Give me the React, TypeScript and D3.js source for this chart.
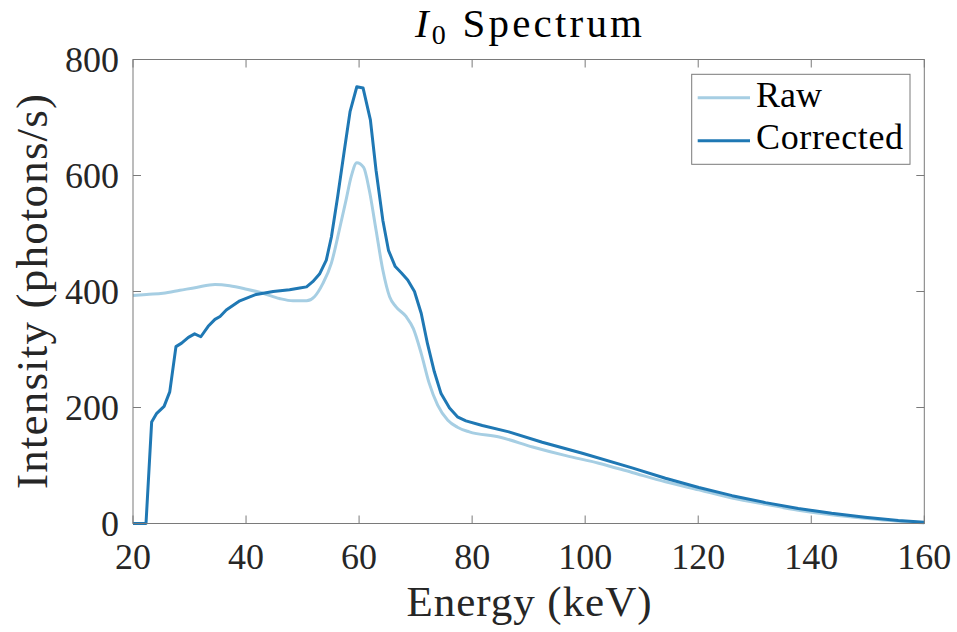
import React from "react";
import * as d3 from "d3";

const rawEnergy = [20, 22.4, 25.3, 28.3, 31.2, 34.5, 37.1, 40.1, 43, 45.9, 48.3, 50.7, 52.1, 53.6, 55.1, 56.5, 57.7, 58.6, 59.6, 60.8, 61.8, 63, 64.2, 65.4, 66.5, 68.3, 69.6, 71, 72.4, 73.9, 75.7, 77.4, 79.5, 84.8, 90.7, 96.6, 102.4, 108.3, 114.2, 120.1, 126, 131.9, 137.7, 143.6, 149.5, 155.4, 160];
const rawIntensity = [393, 395, 397, 402, 407, 412, 410, 404, 397, 388, 384, 384, 391, 414, 449, 506, 558, 598, 622, 614, 575, 506, 437, 391, 374, 357, 336, 293, 242, 204, 178, 166, 158, 149, 132, 117, 104, 88, 72, 58, 44, 33, 23, 15, 9, 4, 1];

const corrEnergy = [20, 22.3, 23.3, 24.2, 25.5, 26.5, 27.6, 28.6, 29.8, 30.9, 32, 33.3, 34.5, 35.4, 36.5, 38.9, 41.8, 44.8, 47.7, 49.5, 50.7, 51.8, 53, 54.2, 55.1, 56.2, 57.4, 58.4, 59.6, 60.7, 62, 63, 64.2, 65.2, 66.4, 67.5, 68.6, 69.8, 71, 72.1, 73.3, 74.5, 76, 77.4, 78.9, 81.8, 86.5, 92.4, 99.5, 108.3, 114.2, 120.1, 126, 131.9, 137.7, 143.6, 149.5, 155.4, 160];
const corrIntensity = [0, 0, 175, 190, 202, 227, 305, 311, 321, 327, 322, 340, 352, 357, 368, 384, 395, 400, 403, 406, 408, 417, 430, 454, 494, 563, 644, 710, 753, 751, 696, 609, 523, 471, 443, 432, 420, 400, 362, 310, 262, 224, 199, 184, 177, 169, 158, 140, 121, 96, 78, 62, 48, 36, 26, 17.5, 10.7, 5, 2];

const xTicks = [20, 40, 60, 80, 100, 120, 140, 160];
const yTicks = [0, 200, 400, 600, 800];
const seriesNames = ["Raw", "Corrected"];
const seriesColors = ["#a6cee3", "#1f78b4"];

const W = 957;
const H = 632;
const left = 133;
const right = 924.3;
const top = 59.5;
const bottom = 523.5;
const FONT = "'Liberation Serif', 'Times New Roman', serif";
const AXIS = "#7a7a7a";

export default function App() {
  const x = d3.scaleLinear().domain([20, 160]).range([left, right]);
  const y = d3.scaleLinear().domain([0, 800]).range([bottom, top]);

  const rawPts: [number, number][] = rawEnergy.map((e, i) => [e, rawIntensity[i]]);
  const corrPts: [number, number][] = corrEnergy.map((e, i) => [e, corrIntensity[i]]);

  const rawLine = d3
    .line<[number, number]>()
    .x((d) => x(d[0]))
    .y((d) => y(d[1]))
    .curve(d3.curveMonotoneX);
  const corrLine = d3
    .line<[number, number]>()
    .x((d) => x(d[0]))
    .y((d) => y(d[1]));

  const tickLen = 8;

  return (
    <svg
      width={W}
      height={H}
      style={{ position: "absolute", left: 0, top: 0, background: "#fff" }}
      fontFamily={FONT}
    >
      <rect x={0} y={0} width={W} height={H} fill="#fff" />
      <defs>
        <clipPath id="plotClip">
          <rect x={left - 2} y={top} width={right - left + 4} height={bottom - top + 2} />
        </clipPath>
      </defs>

      {/* ticks */}
      {xTicks.map((t) => (
        <g key={"xt" + t}>
          <line x1={x(t)} x2={x(t)} y1={bottom} y2={bottom - tickLen} stroke={AXIS} strokeWidth={1} />
          <line x1={x(t)} x2={x(t)} y1={top} y2={top + tickLen} stroke={AXIS} strokeWidth={1} />
          <text x={x(t)} y={569} textAnchor="middle" fontSize={36} fill="#262626">
            {t}
          </text>
        </g>
      ))}
      {yTicks.map((t) => (
        <g key={"yt" + t}>
          <line x1={left} x2={left + tickLen} y1={y(t)} y2={y(t)} stroke={AXIS} strokeWidth={1} />
          <line x1={right} x2={right - tickLen} y1={y(t)} y2={y(t)} stroke={AXIS} strokeWidth={1} />
          <text x={119} y={y(t) + 12} textAnchor="end" fontSize={36} fill="#262626">
            {t}
          </text>
        </g>
      ))}

      {/* lines */}
      <g clipPath="url(#plotClip)">
        <path d={rawLine(rawPts) || ""} fill="none" stroke={seriesColors[0]} strokeWidth={3} strokeLinejoin="round" />
        <path d={corrLine(corrPts) || ""} fill="none" stroke={seriesColors[1]} strokeWidth={3} strokeLinejoin="round" />
      </g>

      {/* box */}
      <rect x={left} y={top} width={right - left} height={bottom - top} fill="none" stroke={AXIS} strokeWidth={1} />

      {/* legend */}
      <rect x={691.7} y={74.3} width={218.3} height={90} fill="#fff" stroke={AXIS} strokeWidth={1} />
      {seriesNames.map((n, i) => {
        const ly = i === 0 ? 97.7 : 140.7;
        const by = i === 0 ? 106.7 : 149.3;
        return (
          <g key={n}>
            <line x1={697.7} x2={750} y1={ly} y2={ly} stroke={seriesColors[i]} strokeWidth={3} />
            <text x={756} y={by} fontSize={36} fill="#000" textLength={i === 0 ? 66 : 147} lengthAdjust="spacing">
              {n}
            </text>
          </g>
        );
      })}

      {/* title */}
      <text x={528.5} y={37} textAnchor="middle" fontSize={41} fill="#000" textLength={227} lengthAdjust="spacing">
        <tspan fontStyle="italic">I</tspan>
        <tspan dy={7} fontSize={28}>0</tspan>
        <tspan dy={-7}>{"\u00A0Spectrum"}</tspan>
      </text>

      {/* axis labels */}
      <text x={529} y={616} textAnchor="middle" fontSize={43} fill="#262626" textLength={245} lengthAdjust="spacing">
        Energy (keV)
      </text>
      <text
        transform={`translate(47, ${(top + bottom) / 2}) rotate(-90)`}
        textAnchor="middle"
        fontSize={45}
        fill="#262626"
        textLength={395}
        lengthAdjust="spacing"
      >
        Intensity (photons/s)
      </text>
    </svg>
  );
}
